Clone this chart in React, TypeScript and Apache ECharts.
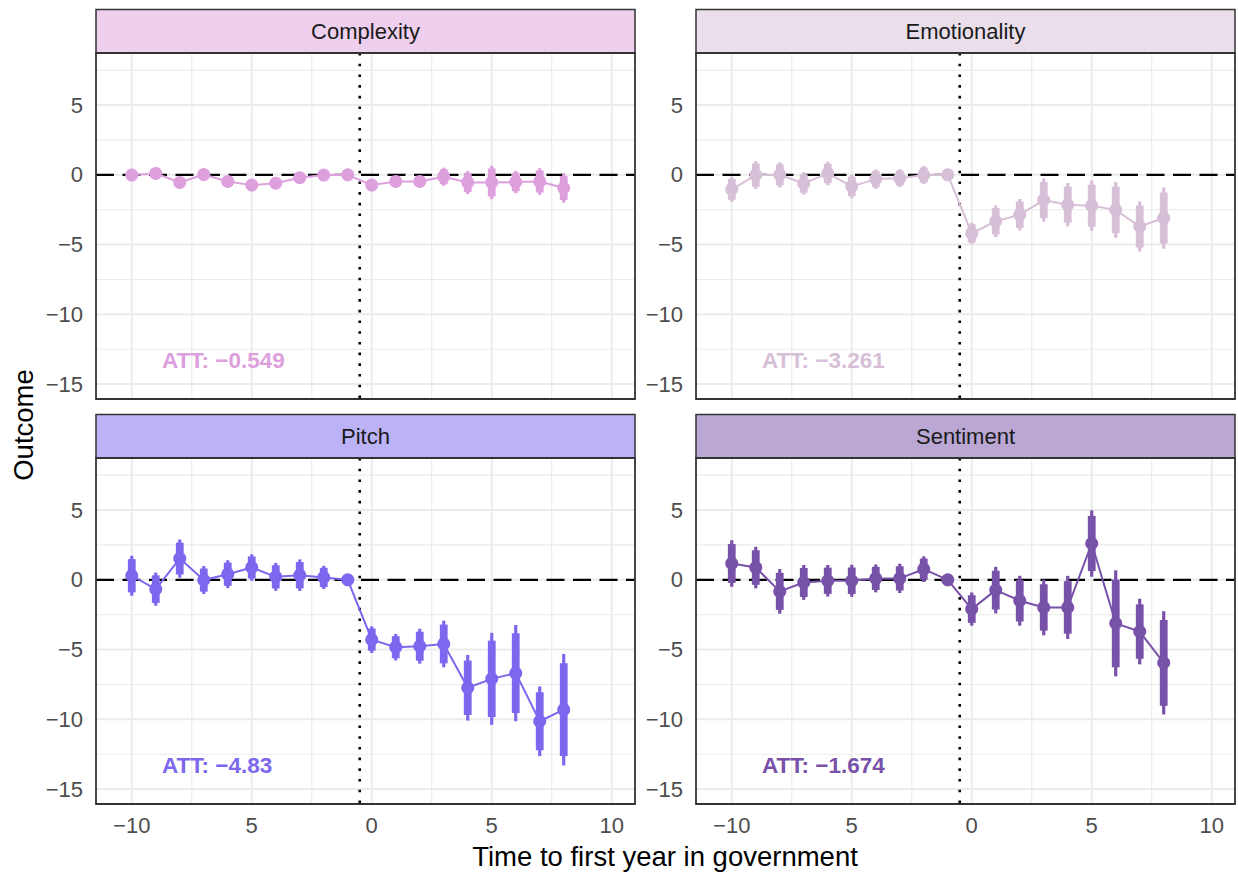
import React, { useEffect, useRef } from "react";
import * as echarts from "echarts";

// ---------- data ----------
const periods = [-10, -9, -8, -7, -6, -5, -4, -3, -2, -1, 0, 1, 2, 3, 4, 5, 6, 7, 8];

const complexityEst = [-0.02, 0.1, -0.55, 0.02, -0.48, -0.74, -0.6, -0.21, -0.02, 0, -0.74, -0.48, -0.48, -0.14, -0.55, -0.55, -0.52, -0.48, -0.95];
const complexityOuter = [0.4, 0.4, 0.4, 0.35, 0.4, 0.4, 0.4, 0.35, 0.35, 0, 0.4, 0.4, 0.4, 0.65, 0.83, 1.2, 0.8, 0.95, 1.04];
const complexityInner = [0.33, 0.33, 0.33, 0.29, 0.33, 0.33, 0.33, 0.29, 0.29, 0, 0.33, 0.33, 0.33, 0.54, 0.69, 1.0, 0.66, 0.79, 0.86];

const emotionalityEst = [-1.04, -0.02, 0.0, -0.62, 0.1, -0.83, -0.31, -0.24, -0.02, 0, -4.2, -3.33, -2.86, -1.81, -2.14, -2.21, -2.52, -3.71, -3.1];
const emotionalityOuter = [0.9, 1.0, 0.9, 0.8, 0.85, 0.85, 0.7, 0.65, 0.65, 0, 0.78, 1.13, 1.13, 1.55, 1.55, 1.8, 2.0, 1.8, 2.2];
const emotionalityInner = [0.75, 0.83, 0.75, 0.66, 0.7, 0.7, 0.58, 0.54, 0.54, 0, 0.65, 0.94, 0.94, 1.29, 1.29, 1.5, 1.66, 1.5, 1.83];

const pitchEst = [0.29, -0.67, 1.52, -0.02, 0.4, 0.88, 0.21, 0.33, 0.17, 0, -4.29, -4.83, -4.76, -4.6, -7.74, -7.1, -6.69, -10.14, -9.31];
const pitchOuter = [1.43, 1.19, 1.37, 1.0, 1.0, 0.95, 1.0, 1.13, 0.83, 0, 0.95, 0.95, 1.25, 1.67, 2.35, 3.3, 3.45, 2.5, 4.0];
const pitchInner = [1.19, 0.99, 1.14, 0.83, 0.83, 0.79, 0.83, 0.94, 0.69, 0, 0.79, 0.79, 1.04, 1.39, 1.95, 2.74, 2.86, 2.08, 3.32];

const sentimentEst = [1.17, 0.88, -0.83, -0.19, -0.07, -0.07, 0.1, 0.1, 0.76, 0, -2.1, -0.74, -1.5, -1.98, -1.98, 2.6, -3.12, -3.71, -5.95];
const sentimentOuter = [1.67, 1.49, 1.6, 1.25, 1.13, 1.15, 1.0, 1.05, 0.92, 0, 1.19, 1.67, 1.79, 2.0, 2.26, 2.38, 3.8, 2.35, 3.7];
const sentimentInner = [1.39, 1.24, 1.33, 1.04, 0.94, 0.95, 0.83, 0.87, 0.76, 0, 0.99, 1.39, 1.49, 1.66, 1.88, 1.98, 3.15, 1.95, 3.07];

const facetNames = ["Complexity", "Emotionality", "Pitch", "Sentiment"];
const facetColors = ["#DDA0DD", "#D8BFD8", "#7B68EE", "#7851A9"];
const stripColors = ["#EECFED", "#EADEEA", "#BCB3F6", "#BBA7D3"];
const attLabels = ["ATT: \u22120.549", "ATT: \u22123.261", "ATT: \u22124.83", "ATT: \u22121.674"];
const attPos = [-8.74, -13.33];

const xTicks = [-10, -5, 0, 5, 10];
const xTickLabels = ["\u221210", "5", "0", "5", "10"];
const yTicks = [-15, -10, -5, 0, 5];
const yTickLabels = ["\u221215", "\u221210", "\u22125", "0", "5"];
const xGridLines = [-10, -7.5, -5, -2.5, 0, 2.5, 5, 7.5, 10];
const yGridLines = [-15, -12.5, -10, -7.5, -5, -2.5, 0, 2.5, 5, 7.5];
const refX = -0.5;
const refY = 0;

const xTitle = "Time to first year in government";
const yTitle = "Outcome";

// ---------- layout ----------
const X_MIN = -11.49;
const X_MAX = 10.97;
const Y_MIN = -16.07;
const Y_MAX = 8.73;
const panelW = 539;
const panelH = 346;
const panelLefts = [96, 696, 96, 696];
const panelTops = [53, 53, 458, 458];
const stripH = 43.5;
const FONT = "'Liberation Sans', Arial, Helvetica, sans-serif";

const estArr = [complexityEst, emotionalityEst, pitchEst, sentimentEst];
const outerArr = [complexityOuter, emotionalityOuter, pitchOuter, sentimentOuter];
const innerArr = [complexityInner, emotionalityInner, pitchInner, sentimentInner];

function buildOption() {
  const grids: any[] = [];
  const xAxes: any[] = [];
  const yAxes: any[] = [];
  const series: any[] = [];
  const graphics: any[] = [];

  for (let p = 0; p < 4; p++) {
    const color = facetColors[p];
    grids.push({ left: panelLefts[p], top: panelTops[p], width: panelW, height: panelH, containLabel: false });
    xAxes.push({
      type: "value",
      gridIndex: p,
      min: X_MIN,
      max: X_MAX,
      axisLine: { show: false },
      axisTick: { show: false },
      splitLine: { show: false },
      axisLabel: {
        show: p >= 2,
        customValues: xTicks,
        formatter: (v: number) => {
          const k = xTicks.indexOf(v);
          return k >= 0 ? xTickLabels[k] : "";
        },
        color: "#4D4D4D",
        fontSize: 22,
        fontFamily: FONT,
        margin: 10,
      },
    });
    yAxes.push({
      type: "value",
      gridIndex: p,
      min: Y_MIN,
      max: Y_MAX,
      axisLine: { show: false },
      axisTick: { show: false },
      splitLine: { show: false },
      axisLabel: {
        customValues: yTicks,
        formatter: (v: number) => {
          const k = yTicks.indexOf(v);
          return k >= 0 ? yTickLabels[k] : "";
        },
        color: "#4D4D4D",
        fontSize: 22,
        fontFamily: FONT,
        margin: 13,
      },
    });

    // grid lines
    const gridData: any[] = [];
    xGridLines.forEach((v) => gridData.push([v, 0, 0, v % 5 === 0 ? 1 : 0]));
    yGridLines.forEach((v) => gridData.push([0, v, 1, v % 5 === 0 ? 1 : 0]));
    series.push({
      type: "custom",
      xAxisIndex: p,
      yAxisIndex: p,
      silent: true,
      z: 1,
      clip: true,
      encode: { x: 0, y: 1 },
      data: gridData,
      renderItem: (params: any, api: any) => {
        const cs = params.coordSys;
        const orient = api.value(2);
        const major = api.value(3);
        const lw = major ? 2 : 1.1;
        if (orient === 0) {
          const px = api.coord([api.value(0), 0])[0];
          return {
            type: "line",
            shape: { x1: px, y1: cs.y, x2: px, y2: cs.y + cs.height },
            style: { stroke: "#EBEBEB", lineWidth: lw },
          };
        }
        const py = api.coord([0, api.value(1)])[1];
        return {
          type: "line",
          shape: { x1: cs.x, y1: py, x2: cs.x + cs.width, y2: py },
          style: { stroke: "#EBEBEB", lineWidth: lw },
        };
      },
    });

    // reference lines
    series.push({
      type: "custom",
      xAxisIndex: p,
      yAxisIndex: p,
      silent: true,
      z: 2,
      encode: { x: 0, y: 1 },
      data: [[refX, refY]],
      renderItem: (params: any, api: any) => {
        const cs = params.coordSys;
        const pt = api.coord([api.value(0), api.value(1)]);
        return {
          type: "group",
          children: [
            {
              type: "line",
              shape: { x1: cs.x, y1: pt[1], x2: cs.x + cs.width, y2: pt[1] },
              style: { stroke: "#000000", lineWidth: 2.2, lineDash: [18, 8.5] },
            },
            {
              type: "line",
              shape: { x1: pt[0], y1: cs.y, x2: pt[0], y2: cs.y + cs.height },
              style: { stroke: "#000000", lineWidth: 2.6, lineDash: [2.6, 8.1] },
            },
          ],
        };
      },
    });

    // error bars
    const est = estArr[p];
    const outer = outerArr[p];
    const inner = innerArr[p];
    series.push({
      type: "custom",
      xAxisIndex: p,
      yAxisIndex: p,
      silent: true,
      z: 3,
      encode: { x: 0, y: 1 },
      data: periods.map((x, k) => [x, est[k], outer[k], inner[k]]),
      renderItem: (params: any, api: any) => {
        const x = api.value(0);
        const y = api.value(1);
        const o = api.value(2);
        const i = api.value(3);
        if (!(o > 0)) return { type: "group", children: [] };
        const t = api.coord([x, y + o]);
        const b = api.coord([x, y - o]);
        const it = api.coord([x, y + i]);
        const ib = api.coord([x, y - i]);
        return {
          type: "group",
          children: [
            { type: "rect", shape: { x: t[0] - 1.6, y: t[1], width: 3.2, height: b[1] - t[1] }, style: { fill: color } },
            { type: "rect", shape: { x: it[0] - 3.9, y: it[1], width: 7.8, height: ib[1] - it[1] }, style: { fill: color } },
          ],
        };
      },
    });

    // line + points
    series.push({
      type: "line",
      xAxisIndex: p,
      yAxisIndex: p,
      z: 4,
      silent: true,
      data: periods.map((x, k) => [x, est[k]]),
      symbol: "circle",
      symbolSize: 13,
      showSymbol: true,
      lineStyle: { color, width: 2 },
      itemStyle: { color },
    });

    // ATT label
    series.push({
      type: "custom",
      xAxisIndex: p,
      yAxisIndex: p,
      silent: true,
      z: 5,
      encode: { x: 0, y: 1 },
      data: [attPos],
      renderItem: (params: any, api: any) => {
        const pt = api.coord([api.value(0), api.value(1)]);
        return {
          type: "text",
          x: pt[0],
          y: pt[1],
          style: {
            text: attLabels[p],
            fill: color,
            font: `bold 22.5px ${FONT}`,
            align: "left",
            verticalAlign: "middle",
          },
        };
      },
    });

    // strip
    graphics.push({
      type: "rect",
      shape: { x: panelLefts[p], y: panelTops[p] - stripH, width: panelW, height: stripH },
      style: { fill: stripColors[p], stroke: "#333333", lineWidth: 1.5 },
      z: 10,
    });
    graphics.push({
      type: "text",
      x: panelLefts[p] + panelW / 2,
      y: panelTops[p] - stripH / 2,
      style: {
        text: facetNames[p],
        fill: "#1A1A1A",
        font: `22px ${FONT}`,
        align: "center",
        verticalAlign: "middle",
      },
      z: 11,
    });
    // panel border
    graphics.push({
      type: "rect",
      shape: { x: panelLefts[p], y: panelTops[p], width: panelW, height: panelH },
      style: { fill: "none", stroke: "#333333", lineWidth: 1.8 },
      z: 12,
    });
  }

  graphics.push({
    type: "text",
    x: 665,
    y: 856,
    style: { text: xTitle, fill: "#000000", font: `27.5px ${FONT}`, align: "center", verticalAlign: "middle" },
    z: 11,
  });
  graphics.push({
    type: "text",
    x: 23,
    y: 425,
    rotation: Math.PI / 2,
    style: { text: yTitle, fill: "#000000", font: `27.5px ${FONT}`, align: "center", verticalAlign: "middle" },
    z: 11,
  });

  return {
    animation: false,
    backgroundColor: "#FFFFFF",
    grid: grids,
    xAxis: xAxes,
    yAxis: yAxes,
    series,
    graphic: { elements: graphics },
  };
}

export default function App() {
  const ref = useRef<HTMLDivElement>(null);
  useEffect(() => {
    if (!ref.current) return;
    const chart = echarts.init(ref.current, undefined, { renderer: "svg" });
    chart.setOption(buildOption() as any);
    return () => chart.dispose();
  }, []);
  return (
    <div
      ref={ref}
      style={{ position: "absolute", left: 0, top: 0, width: 1238, height: 876, background: "#fff" }}
    />
  );
}
